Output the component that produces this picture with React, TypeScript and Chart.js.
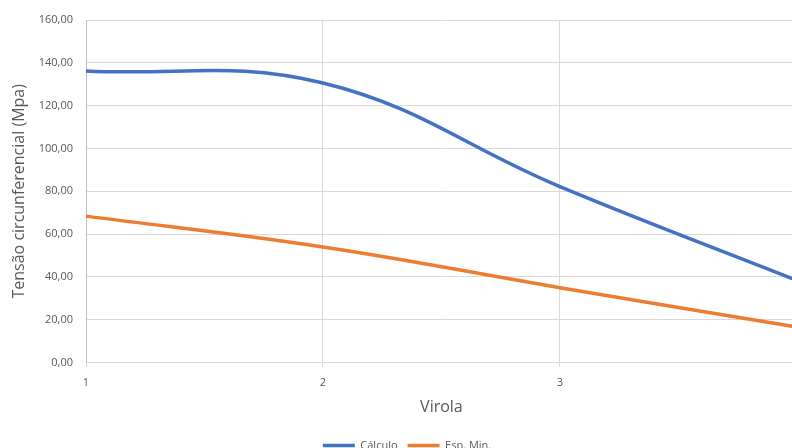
import React, { useEffect, useRef } from "react";
import { Chart, registerables } from "chart.js";

Chart.register(...registerables);

const categories = ["1", "2", "3", "4"];
const calculoValues = [136.2, 130.6, 82.2, 38.4];
const espMinValues = [68.4, 54.0, 35.0, 16.6];
const seriesNames = ["Cálculo", "Esp. Min."];
const yTitle = "Tensão circunferencial (Mpa)";
const xTitle = "Virola";

const FONT = "'Open Sans', 'Noto Sans', sans-serif";
const TEXT = "#595959";
const GRID = "#d9d9d9";

export default function App() {
  const ref = useRef<HTMLCanvasElement | null>(null);
  useEffect(() => {
    if (!ref.current) return;
    const chart = new Chart(ref.current, {
      type: "line",
      data: {
        labels: categories,
        datasets: [
          {
            label: seriesNames[0],
            data: calculoValues,
            borderColor: "#4472C4",
            backgroundColor: "#4472C4",
            borderWidth: 3.5,
            pointRadius: 0,
            tension: 0.4,
          },
          {
            label: seriesNames[1],
            data: espMinValues,
            borderColor: "#ED7D31",
            backgroundColor: "#ED7D31",
            borderWidth: 3.5,
            pointRadius: 0,
            tension: 0.4,
          },
        ],
      },
      options: {
        animation: false,
        responsive: false,
        layout: { padding: { left: 17, right: 13, top: 20, bottom: 0 } },
        plugins: {
          tooltip: { enabled: false },
          legend: {
            position: "bottom",
            labels: {
              usePointStyle: true,
              pointStyle: "line",
              pointStyleWidth: 32,
              boxHeight: 11,
              padding: 10,
              color: TEXT,
              font: { family: FONT, size: 11 },
            },
          },
        },
        scales: {
          x: {
            grid: { color: GRID, tickLength: 4, drawTicks: true },
            border: { color: GRID },
            ticks: { color: TEXT, font: { family: FONT, size: 11 }, padding: 10, maxRotation: 0 },
            title: {
              display: true,
              text: xTitle,
              color: TEXT,
              font: { family: FONT, size: 16 },
              padding: { top: -2, bottom: 13 },
            },
          },
          y: {
            min: 0,
            max: 160,
            grid: { color: GRID, drawTicks: false },
            border: { color: "#bfbfbf" },
            ticks: {
              stepSize: 20,
              color: TEXT,
              padding: 13,
              font: { family: FONT, size: 11 },
              callback: (v: any) => Number(v).toFixed(2).replace(".", ","),
            },
            title: {
              display: true,
              text: yTitle,
              color: TEXT,
              font: { family: FONT, size: 16 },
              padding: { top: -7, bottom: 0 },
            },
            afterFit: (scale: any) => {
              scale.width = 69;
            },
          },
        },
      },
    });
    return () => chart.destroy();
  }, []);
  return (
    <div style={{ position: "fixed", left: 0, top: 0, width: 792, height: 448, overflow: "hidden", background: "#fff" }}>
      <canvas ref={ref} width={810} height={461} style={{ display: "block" }} />
    </div>
  );
}
